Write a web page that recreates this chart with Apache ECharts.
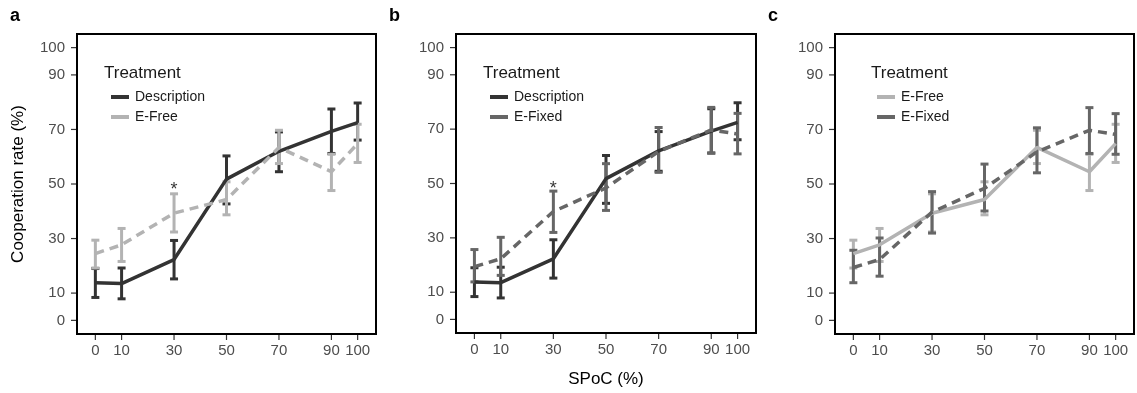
<!DOCTYPE html>
<html>
<head>
<meta charset="utf-8">
<script src="https://cdn.jsdelivr.net/npm/echarts@6/dist/echarts.min.js"></script>
<style>
html,body{margin:0;padding:0;background:#fff;}
#chart{width:1137px;height:393px;}
</style>
</head>
<body>
<div id="chart"></div>
<script>
// ---- data ----
const spoc = [0, 10, 30, 50, 70, 90, 100];
const xTicks = [0, 10, 30, 50, 70, 90, 100];
const yTicks = [0, 10, 30, 50, 70, 90, 100];

const descMean = [13.8, 13.5, 22.3, 51.8, 62.0, 69.3, 72.5];
const descLo   = [8.4, 7.9, 15.2, 42.7, 54.5, 61.2, 66.1];
const descHi   = [19.0, 19.2, 29.3, 60.3, 69.1, 77.5, 79.7];

const freeMean = [24.5, 27.7, 39.3, 44.3, 63.4, 54.5, 64.8];
const freeLo   = [19.2, 21.6, 32.4, 38.7, 57.5, 47.6, 57.9];
const freeHi   = [29.4, 33.7, 46.4, 50.8, 69.7, 60.9, 71.9];

const fixedMean = [19.4, 22.3, 39.7, 48.4, 61.8, 69.7, 68.2];
const fixedLo   = [13.8, 16.2, 32.0, 40.1, 54.1, 61.2, 60.9];
const fixedHi   = [25.7, 30.2, 47.2, 57.3, 70.6, 78.0, 75.8];

const sigX = [30];
const sigY = [49];

const panelLabels = ['a', 'b', 'c'];
const yTitle = 'Cooperation rate (%)';
const xTitle = 'SPoC (%)';
const legendTitle = 'Treatment';

// ---- styles ----
const FONT = '"Liberation Sans", Arial, sans-serif';
const C_DESC = '#333333', C_FREE = '#b3b3b3', C_FIXED = '#666666';
const XMIN = -7, XMAX = 107, YMIN = -5, YMAX = 105;

const treat = {
  'Description': {mean: descMean, lo: descLo, hi: descHi, color: C_DESC},
  'E-Free': {mean: freeMean, lo: freeLo, hi: freeHi, color: C_FREE},
  'E-Fixed': {mean: fixedMean, lo: fixedLo, hi: fixedHi, color: C_FIXED}
};

const panels = [
  {left: 77, width: 299, items: [['Description', 'solid'], ['E-Free', 'dashed']], legendLeft: 106, titleLeft: 104, sig: true},
  {left: 456, width: 300, items: [['Description', 'solid'], ['E-Fixed', 'dashed']], legendLeft: 485, titleLeft: 483, sig: true},
  {left: 835, width: 299, items: [['E-Free', 'solid'], ['E-Fixed', 'dashed']], legendLeft: 872, titleLeft: 871, sig: false}
];

function errRender(params, api) {
  const x = api.value(0), lo = api.value(1), hi = api.value(2);
  const a = api.coord([x, lo]), b = api.coord([x, hi]);
  const w = 4;
  const col = api.visual('color');
  const st = {stroke: col, lineWidth: 3, lineCap: 'butt'};
  return {
    type: 'group',
    children: [
      {type: 'line', shape: {x1: a[0], y1: a[1], x2: b[0], y2: b[1]}, style: st},
      {type: 'line', shape: {x1: a[0] - w, y1: a[1], x2: a[0] + w, y2: a[1]}, style: st},
      {type: 'line', shape: {x1: b[0] - w, y1: b[1], x2: b[0] + w, y2: b[1]}, style: st}
    ]
  };
}

const grids = [], xAxes = [], yAxes = [], series = [], legends = [], titles = [];

panels.forEach((p, i) => {
  grids.push({left: p.left, top: 34, width: p.width, height: 300, show: true,
    borderColor: '#000', borderWidth: 2, backgroundColor: 'transparent'});
  xAxes.push({
    type: 'value', gridIndex: i, min: XMIN, max: XMAX, position: 'bottom',
    name: i === 1 ? xTitle : '', nameLocation: 'middle', nameGap: 38,
    nameTextStyle: {fontFamily: FONT, fontSize: 17, color: '#000'},
    axisLine: {show: false, onZero: false},
    axisTick: {show: false},
    axisLabel: {fontFamily: FONT, fontSize: 15, color: '#4d4d4d', margin: 9, customValues: xTicks},
    splitLine: {show: false}
  });
  yAxes.push({
    type: 'value', gridIndex: i, min: YMIN, max: YMAX, position: 'left',
    name: i === 0 ? yTitle : '', nameLocation: 'middle', nameGap: 50, nameRotate: 90,
    nameTextStyle: {fontFamily: FONT, fontSize: 17, color: '#000'},
    axisLine: {show: false, onZero: false},
    axisTick: {show: false},
    axisLabel: {fontFamily: FONT, fontSize: 15, color: '#4d4d4d', margin: 12, customValues: yTicks},
    splitLine: {show: false}
  });
  p.items.forEach(([name, dash]) => {
    const t = treat[name];
    series.push({
      type: 'custom', name: name, xAxisIndex: i, yAxisIndex: i,
      renderItem: errRender, itemStyle: {color: t.color},
      data: spoc.map((x, k) => [x, t.lo[k], t.hi[k]]), z: 2, silent: true
    });
    series.push({
      type: 'line', name: name, xAxisIndex: i, yAxisIndex: i,
      data: spoc.map((x, k) => [x, t.mean[k]]),
      showSymbol: false, symbol: 'none', silent: true,
      lineStyle: {color: t.color, width: 3.5, type: dash === 'dashed' ? [9, 6] : 'solid'},
      itemStyle: {color: t.color}, z: 3
    });
  });
  if (p.sig) {
    series.push({
      type: 'scatter', xAxisIndex: i, yAxisIndex: i, symbolSize: 0, silent: true,
      data: sigX.map((x, k) => [x, sigY[k]]),
      label: {show: true, formatter: '*', position: 'inside', fontFamily: FONT, fontSize: 18, color: '#000', offset: [0, 3]}
    });
  }
  legends.push({
    left: p.legendLeft, top: 84, orient: 'vertical', itemWidth: 18, itemHeight: 4, itemGap: 4,
    selectedMode: false,
    data: p.items.map(([name]) => ({name: name, icon: 'rect', itemStyle: {color: treat[name].color}})),
    textStyle: {fontFamily: FONT, fontSize: 14, color: '#1a1a1a', lineHeight: 16, padding: [0, 0, 0, 1]}
  });
  titles.push({text: legendTitle, left: p.titleLeft, top: 65, padding: 0,
    textStyle: {fontFamily: FONT, fontSize: 17, fontWeight: 'normal', color: '#1a1a1a'}});
  titles.push({text: panelLabels[i], left: [10, 389, 768][i], top: 7, padding: 0,
    textStyle: {fontFamily: FONT, fontSize: 18, fontWeight: 'bold', color: '#000'}});
});

const chart = echarts.init(document.getElementById('chart'), null, {renderer: 'canvas'});
chart.setOption({
  animation: false,
  backgroundColor: '#fff',
  title: titles,
  legend: legends,
  grid: grids,
  xAxis: xAxes,
  yAxis: yAxes,
  series: series
});

// tick marks, positioned through the library's axis scales
const tickEls = [];
panels.forEach((p, i) => {
  const finder = {xAxisIndex: i, yAxisIndex: i};
  yTicks.forEach(v => {
    const q = chart.convertToPixel(finder, [XMIN, v]);
    tickEls.push({type: 'line', silent: true, z: 10,
      shape: {x1: q[0] - 6, y1: q[1], x2: q[0] - 1, y2: q[1]},
      style: {stroke: '#333333', lineWidth: 1.2}});
  });
  xTicks.forEach(v => {
    const q = chart.convertToPixel(finder, [v, YMIN]);
    tickEls.push({type: 'line', silent: true, z: 10,
      shape: {x1: q[0], y1: q[1] + 1, x2: q[0], y2: q[1] + 6},
      style: {stroke: '#333333', lineWidth: 1.2}});
  });
});
chart.setOption({graphic: tickEls});
</script>
</body>
</html>
